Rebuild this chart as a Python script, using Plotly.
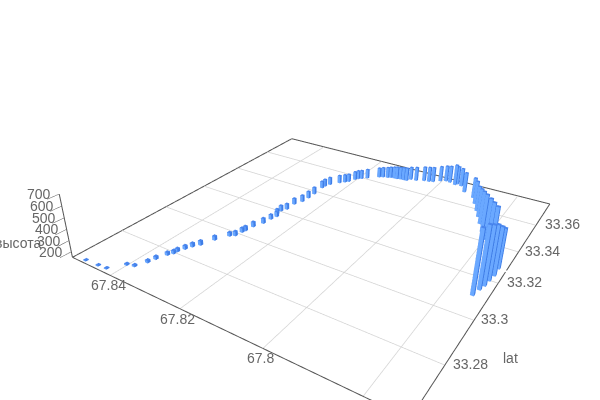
import plotly.graph_objects as go
import numpy as np

lon = [67.8489,67.8451,67.8427,67.8402,67.8384,67.8372,67.8367,67.8358,67.8351,67.8350,67.8343,67.8336,67.8326,67.8314,67.8297,67.8287,67.8284,67.8282,67.8278,67.8268,67.8265,67.8261,67.8268,67.8269,67.8262,67.8262,67.8253,67.8251,67.8251,67.8253,67.8252,67.8246,67.8230,67.8220,67.8213,67.8205,67.8200,67.8193,67.8181,67.8157,67.8148,67.8136,67.8129,67.8119,67.8111,67.8102,67.8093,67.8084,67.8077,67.8062,67.8043,67.8030,67.8020,67.8005,67.7992,67.7980,67.7963,67.7959,67.7946,67.7926,67.7895,67.7880,67.7863,67.7849,67.7834,67.7817,67.7799,67.7783,67.7767,67.7736,67.7735,67.7738,67.7740,67.7744,67.7749]
lat = [33.2618,33.2621,33.2624,33.2671,33.2679,33.2716,33.2743,33.2779,33.2796,33.2811,33.2835,33.2858,33.2880,33.2928,33.2974,33.2986,33.3016,33.3030,33.3065,33.3102,33.3139,33.3165,33.3181,33.3206,33.3228,33.3274,33.3307,33.3343,33.3382,33.3441,33.3459,33.3482,33.3515,33.3532,33.3545,33.3574,33.3587,33.3596,33.3612,33.3646,33.3655,33.3661,33.3668,33.3671,33.3671,33.3676,33.3677,33.3678,33.3696,33.3699,33.3714,33.3718,33.3725,33.3747,33.3759,33.3756,33.3747,33.3758,33.3750,33.3708,33.3681,33.3639,33.3591,33.3552,33.3508,33.3460,33.3416,33.3373,33.3332,33.3276,33.3233,33.3200,33.3168,33.3142,33.3106]
alt = [150,150,155,164,166,173,177,178,180,180,183,185,190,188,185,192,191,192,196,199,195,197,197,203,203,207,212,215,216,217,220,222,225,225,225,230,233,233,240,244,248,255,258,265,272,272,276,279,276,286,293,297,297,300,306,317,354,330,329,345,348,372,387,418,456,496,526,555,583,501,568,621,656,686,700]

lon_range = [67.8523, 67.7719]
lat_range = [33.2605, 33.3784]
alt_range = [150, 700]
lon_ticks = [67.84, 67.82, 67.80, 67.78]
lat_ticks = [33.28, 33.30, 33.32, 33.34, 33.36]
alt_ticks = [200, 300, 400, 500, 600, 700]
lon_labels = ["67.84", "67.82", "67.8"]
lat_labels = ["33.28", "33.3", "33.32", "33.34", "33.36"]
alt_labels = ["200", "300", "400", "500", "600", "700"]

W_LON, W_LAT = 0.0008, 0.0012
LIGHT, DARK, TOP = "#6aa8ff", "#3f7de6", "#4a86ee"
FONT = "Liberation Sans"
TEXT = "#666666"
z0 = alt_range[0]

vx, vy, vz, ii, jj, kk, fc = [], [], [], [], [], [], []
quads = [((0, 1, 2, 3), TOP), ((4, 5, 6, 7), TOP),
         ((0, 1, 5, 4), LIGHT), ((3, 2, 6, 7), LIGHT),
         ((0, 3, 7, 4), DARK), ((1, 2, 6, 5), DARK)]
for x, y, a in zip(lon, lat, alt):
    n = len(vx)
    top = max(a, z0 + 8)
    for dz in (z0, top):
        for sx, sy in ((-1, -1), (1, -1), (1, 1), (-1, 1)):
            vx.append(x + sx * W_LON / 2)
            vy.append(y + sy * W_LAT / 2)
            vz.append(dz)
    for q, c in quads:
        for t in ((q[0], q[1], q[2]), (q[0], q[2], q[3])):
            ii.append(n + t[0]); jj.append(n + t[1]); kk.append(n + t[2]); fc.append(c)

fig = go.Figure()
fig.add_trace(go.Mesh3d(x=vx, y=vy, z=vz, i=ii, j=jj, k=kk, facecolor=fc, flatshading=True,
                        lighting=dict(ambient=1, diffuse=0, specular=0, fresnel=0),
                        hoverinfo="skip", showscale=False))

def segs(p, q, xs, ys, zs, n=16):
    for s in np.linspace(0, 1, n + 1):
        xs.append(p[0] + (q[0] - p[0]) * s); ys.append(p[1] + (q[1] - p[1]) * s); zs.append(z0)
    xs.append(None); ys.append(None); zs.append(None)

gx, gy, gz = [], [], []
for t in lon_ticks:
    segs((t, lat_range[0]), (t, lat_range[1]), gx, gy, gz)
for t in lat_ticks:
    segs((lon_range[0], t), (lon_range[1], t), gx, gy, gz)
fig.add_trace(go.Scatter3d(x=gx, y=gy, z=gz, mode="lines", line=dict(color="#d4d4d4", width=1.5),
                           hoverinfo="skip", showlegend=False))

ex, ey, ez = [], [], []
cs = [(lon_range[0], lat_range[0]), (lon_range[0], lat_range[1]), (lon_range[1], lat_range[1]),
      (lon_range[1], lat_range[0]), (lon_range[0], lat_range[0])]
for a, b in zip(cs[:-1], cs[1:]):
    segs(a, b, ex, ey, ez, 16)
    segs(a, b, ex, ey, ez, 7)
ex += [lon_range[0], lon_range[0]]
ey += [lat_range[0], lat_range[0]]
ez += [alt_range[0], alt_range[1]]
fig.add_trace(go.Scatter3d(x=ex, y=ey, z=ez, mode="lines", line=dict(color="#555555", width=2),
                           hoverinfo="skip", showlegend=False))

ann = []
def text(x, y, z, s, dx, dy):
    ann.append(dict(x=x, y=y, z=z, text=s, showarrow=False, xshift=dx, yshift=dy,
                    font=dict(family=FONT, size=14, color=TEXT)))
for t, s in zip(lon_ticks, lon_labels):
    text(t, lat_range[0], z0, s, -2, -10)
for t, s, dx in zip(lat_ticks, lat_labels, [26, 20, 26, 24, 27]):
    text(lon_range[1], t, z0, s, dx, 1)
for t, s in zip(alt_ticks, alt_labels):
    text(lon_range[0], lat_range[0], t, s, -20, 0)
text(lon_range[0], lat_range[0], 277, "высота", -52, 0)
text(lon_range[1], 33.28, z0, "lat", 66, 7)

PAD = 0.00005
axis = dict(showbackground=False, showgrid=False, zeroline=False, showline=False, title="",
            showticklabels=False, showspikes=False, ticks="")
scene = dict(
    xaxis=dict(axis, range=[lon_range[0] + PAD, lon_range[1] - PAD]),
    yaxis=dict(axis, range=[lat_range[0] - PAD, lat_range[1] + PAD]),
    zaxis=dict(axis, range=[alt_range[0] - 0.5, alt_range[1] + 0.5], tickvals=alt_ticks, ticks="outside",
               ticklen=2, tickcolor="#555555"),
    aspectmode="manual", aspectratio=dict(x=1, y=1.0495, z=0.1935),
    camera=dict(eye=dict(x=0.7825, y=-1.3158, z=0.7957),
                center=dict(x=0.2864, y=-0.5810, z=0.3333),
                up=dict(x=0, y=0, z=1),
                projection=dict(type="perspective")),
    annotations=ann,
    domain=dict(x=[0, 1], y=[0, 1]),
)
fig.update_layout(width=744, height=496, margin=dict(l=0, r=0, t=0, b=0), paper_bgcolor="white",
                  showlegend=False, scene=scene, dragmode=False)
POST = ("document.body.style.margin='0';document.body.style.overflow='hidden';"
        "var d=document.querySelector('.plotly-graph-div');d.style.position='absolute';"
        "d.style.left='-72px';d.style.top='-48px';")
fig.write_html("out.html", post_script=POST, config=dict(displayModeBar=False))
